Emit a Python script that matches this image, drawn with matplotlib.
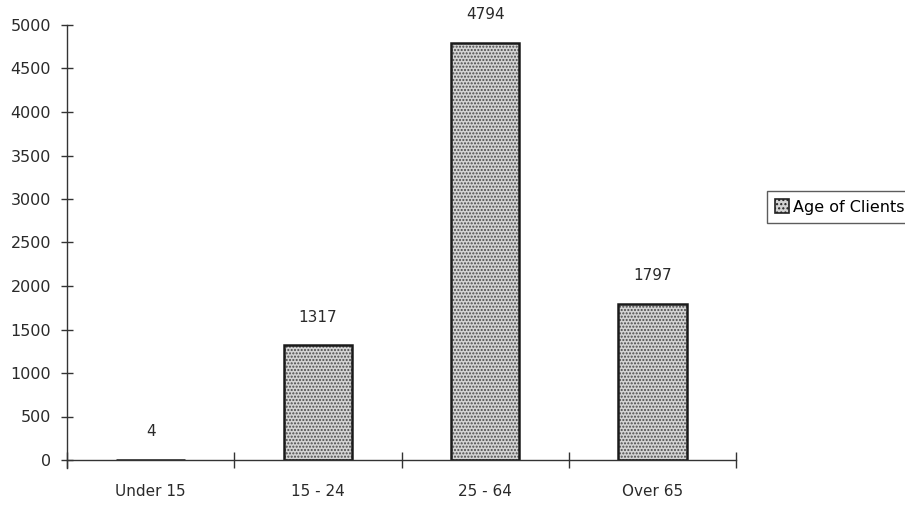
import numpy as np
import matplotlib
matplotlib.use('Agg')
import matplotlib.pyplot as plt
from matplotlib.patches import Patch

# client counts by age band
categories = ['Under 15', '15 - 24', '25 - 64', 'Over 65']
clients = [4, 1317, 4794, 1797]
y_ticks = [0, 500, 1000, 1500, 2000, 2500, 3000, 3500, 4000, 4500, 5000]
series_name = 'Age of Clients'

plt.rcParams['font.family'] = 'DejaVu Sans'
plt.rcParams['font.size'] = 11

fig = plt.figure(figsize=(9.05, 5.05), dpi=100)
ax = fig.add_axes([67/905, 1 - 460/505, (736 - 67)/905, (460 - 25)/505])

x = np.arange(len(categories)) + 0.5
width = 0.41

# dotted fill first, then the black outline on top
ax.bar(x, clients, width, color='#d4d4d4', edgecolor='#4a4a4a', hatch='.....', linewidth=0)
ax.bar(x, clients, width, fill=False, edgecolor='#1a1a1a', linewidth=1.8)

for xi, v in zip(x, clients):
    ax.annotate(str(v), (xi, v), xytext=(0, 15), textcoords='offset points',
                ha='center', va='bottom', fontsize=11, color='#2a2a2a')

ax.set_xlim(0, len(categories))
ax.set_ylim(0, 5000)
ax.set_yticks(y_ticks)
ax.set_yticklabels([str(t) for t in y_ticks])

# category ticks sit between bars, labels under the bars
ax.set_xticks(np.arange(len(categories) + 1))
ax.set_xticklabels([])
ax.set_xticks(x, minor=True)
ax.set_xticklabels(categories, minor=True)
ax.tick_params(axis='x', which='major', direction='inout', length=12, width=1, color='#333333')
ax.tick_params(axis='x', which='minor', length=0, pad=17, labelsize=11, labelcolor='#2a2a2a')
ax.tick_params(axis='y', direction='inout', length=9, width=1, color='#333333', pad=7,
               labelsize=11.5, labelcolor='#2a2a2a')

for s in ['top', 'right']:
    ax.spines[s].set_visible(False)
for s in ['left', 'bottom']:
    ax.spines[s].set_color('#333333')
    ax.spines[s].set_linewidth(1)
ax.spines['left'].set_bounds(-90, 5000)

handle = Patch(facecolor='#d4d4d4', edgecolor='#222222', hatch='....', linewidth=1.2)
leg = fig.legend([handle], [series_name], loc='center left',
                 bbox_to_anchor=(767/905, 1 - 207/505), frameon=True, fancybox=False,
                 edgecolor='#333333', handlelength=0.9, handleheight=0.9,
                 handletextpad=0.2, borderpad=0.5, fontsize=11.5, borderaxespad=0)
leg.get_frame().set_linewidth(1)

fig.savefig('out.png', dpi=100, facecolor='white')
